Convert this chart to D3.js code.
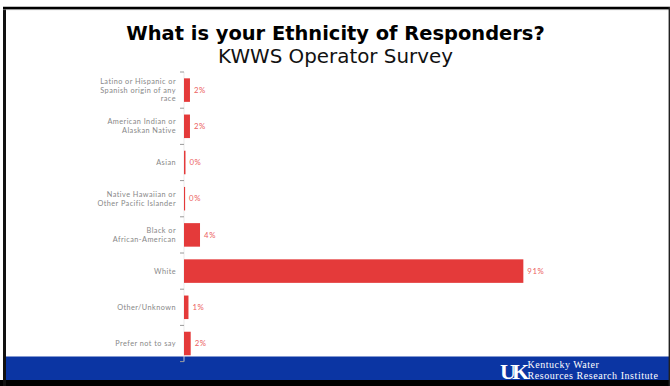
<!DOCTYPE html>
<html>
<head>
<meta charset="utf-8">
<script src="https://cdn.jsdelivr.net/npm/d3@7"></script>
<style>
  html, body { margin: 0; padding: 0; background: #fff; }
  svg { display: block; }
</style>
</head>
<body>
<svg id="chart" width="670" height="386"></svg>
<script>
// ---- Data ----
const categories = [
  "Latino or Hispanic or Spanish origin of any race",
  "American Indian or Alaskan Native",
  "Asian",
  "Native Hawaiian or Other Pacific Islander",
  "Black or African-American",
  "White",
  "Other/Unknown",
  "Prefer not to say"
];
const categoryLines = [
  ["Latino or Hispanic or", "Spanish origin of any", "race"],
  ["American Indian or", "Alaskan Native"],
  ["Asian"],
  ["Native Hawaiian or", "Other Pacific Islander"],
  ["Black or", "African-American"],
  ["White"],
  ["Other/Unknown"],
  ["Prefer not to say"]
];
const values = [1.6, 1.6, 0.4, 0.3, 4.3, 91.1, 1.2, 1.8];
const valueLabels = ["2%", "2%", "0%", "0%", "4%", "91%", "1%", "2%"];
const titleText = "What is your Ethnicity of Responders?";
const subtitleText = "KWWS Operator Survey";
const logoLines = ["Kentucky Water", "Resources Research Institute"];

// ---- Drawing ----
const svg = d3.select("#chart");
const W = 670, H = 386;

svg.append("rect").attr("x", 0).attr("y", 0).attr("width", W).attr("height", H).attr("fill", "#fff");

// footer blue band
svg.append("rect").attr("x", 5).attr("y", 356.5).attr("width", 664).attr("height", 24).attr("fill", "#0b35a3");

// frame
svg.append("rect").attr("x", 0).attr("y", 380).attr("width", W).attr("height", 6).attr("fill", "#000");
svg.append("line").attr("x1", 4.5).attr("x2", 4.5).attr("y1", 7).attr("y2", 386).attr("stroke", "#111").attr("stroke-width", 3);
svg.append("line").attr("x1", 3).attr("x2", W).attr("y1", 8).attr("y2", 8).attr("stroke", "#000").attr("stroke-width", 2.5);
svg.append("line").attr("x1", 3).attr("x2", W).attr("y1", 9.6).attr("y2", 9.6).attr("stroke", "#888").attr("stroke-width", 0.8);
svg.append("line").attr("x1", 669.3).attr("x2", 669.3).attr("y1", 7).attr("y2", 386).attr("stroke", "#222").attr("stroke-width", 1.4);

// helper to fit text width
function fit(sel, target) {
  const len = sel.node().getComputedTextLength();
  const fs = parseFloat(sel.attr("font-size"));
  sel.attr("font-size", (fs * target / len).toFixed(2));
}

// title
const t1 = svg.append("text").attr("x", 335.5).attr("y", 39.5).attr("text-anchor", "middle")
  .attr("font-family", "DejaVu Sans, Verdana, sans-serif").attr("font-weight", "bold")
  .attr("font-size", 18).attr("fill", "#000").text(titleText);
fit(t1, 419);
const t2 = svg.append("text").attr("x", 335.5).attr("y", 62.5).attr("text-anchor", "middle")
  .attr("font-family", "DejaVu Sans, Verdana, sans-serif")
  .attr("font-size", 18).attr("fill", "#111").text(subtitleText);
fit(t2, 235);

// scales
const x = d3.scaleLinear().domain([0, 100]).range([184, 556.5]);
const y = d3.scaleBand().domain(categories).range([72, 361.6]).paddingInner(0.35).paddingOuter(0.175);

const g = svg.append("g");

// axis line and ticks between bands
g.append("line").attr("x1", x(0)).attr("x2", x(0)).attr("y1", y.range()[0]).attr("y2", y.range()[1])
  .attr("stroke", "#e6e6e6").attr("stroke-width", 0.8);
const boundaries = d3.range(categories.length + 1).map(i => y.range()[0] + i * y.step());
g.selectAll(".tk").data(boundaries).join("line").attr("class", "tk")
  .attr("x1", x(0) - 4).attr("x2", x(0)).attr("y1", d => d).attr("y2", d => d)
  .attr("stroke", "#9a9a9a").attr("stroke-width", 1);

// bars
g.selectAll(".bar").data(categories).join("rect").attr("class", "bar")
  .attr("x", x(0))
  .attr("y", d => y(d))
  .attr("width", (d, i) => x(values[i]) - x(0))
  .attr("height", y.bandwidth())
  .attr("fill", "#e43a3a");

// value labels
g.selectAll(".val").data(categories).join("text").attr("class", "val")
  .attr("x", (d, i) => x(values[i]) + 4)
  .attr("y", d => y(d) + y.bandwidth() / 2)
  .attr("dy", "0.35em")
  .attr("font-family", "Lato, Open Sans, sans-serif")
  .attr("font-size", 7.8).attr("letter-spacing", 0.6).attr("fill", "#ec5f5f")
  .text((d, i) => valueLabels[i]);

// category labels (multi-line)
const lineH = 8.8;
const labs = g.selectAll(".cat").data(categories).join("text").attr("class", "cat")
  .attr("text-anchor", "end")
  .attr("font-family", "Lato, Open Sans, sans-serif")
  .attr("font-size", 7.3).attr("letter-spacing", 0.45).attr("fill", "#888");
labs.each(function(d, i) {
  const lines = categoryLines[i];
  const cy = y(d) + y.bandwidth() / 2;
  const startY = cy - (lines.length - 1) * lineH / 2;
  d3.select(this).selectAll("tspan").data(lines).join("tspan")
    .attr("x", 176).attr("y", (l, j) => startY + j * lineH).attr("dy", "0.35em").text(l => l);
});

// logo
const logo = svg.append("g");
logo.append("text").attr("x", 500).attr("y", 378.5)
  .attr("font-family", "Liberation Serif, serif").attr("font-weight", "bold")
  .attr("font-size", 22).attr("fill", "#fff").attr("letter-spacing", -4).text("UK");
const l1 = logo.append("text").attr("x", 527.5).attr("y", 368)
  .attr("font-family", "Liberation Serif, serif").attr("font-size", 10).attr("letter-spacing", 0.5)
  .attr("fill", "#fff").text(logoLines[0]);
const l2 = logo.append("text").attr("x", 527.5).attr("y", 378.8)
  .attr("font-family", "Liberation Serif, serif").attr("font-size", 10).attr("letter-spacing", 0.55)
  .attr("fill", "#fff").text(logoLines[1]);
</script>
</body>
</html>
